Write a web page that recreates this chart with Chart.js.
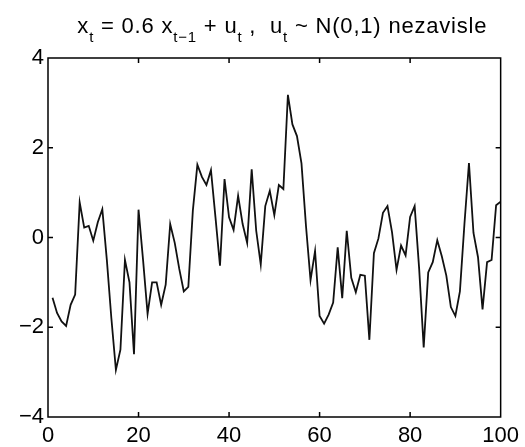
<!DOCTYPE html>
<html>
<head>
<meta charset="utf-8">
<script src="https://cdn.jsdelivr.net/npm/chart.js@4"></script>
<style>
  body { margin: 0; background: #fff; }
  canvas { display: block; }
</style>
</head>
<body>
<canvas id="arChart" width="525" height="447"></canvas>
<script>
// values of the AR(1) series (t = 1..100)
const seriesValues = [
  -1.34, -1.68, -1.87, -1.97, -1.5, -1.27, 0.78, 0.22, 0.26, -0.07,
  0.34, 0.63, -0.5, -1.8, -2.95, -2.5, -0.5, -1.0, -2.6, 0.62,
  -0.5, -1.7, -1.0, -1.0, -1.5, -1.05, 0.3, -0.12, -0.7, -1.2,
  -1.1, 0.6, 1.62, 1.35, 1.17, 1.5, 0.45, -0.63, 1.3, 0.45,
  0.17, 0.93, 0.3, -0.12, 1.52, 0.15, -0.6, 0.7, 1.04, 0.5,
  1.17, 1.08, 3.18, 2.52, 2.26, 1.65, 0.25, -0.95, -0.3, -1.75,
  -1.92, -1.72, -1.45, -0.22, -1.35, 0.15, -0.9, -1.22, -0.83, -0.85,
  -2.28, -0.35, -0.02, 0.55, 0.7, 0.12, -0.72, -0.18, -0.4, 0.46,
  0.7, -0.7, -2.45, -0.78, -0.55, -0.06, -0.42, -0.85, -1.55, -1.75,
  -1.2, 0.3, 1.66, 0.1, -0.44, -1.6, -0.55, -0.5, 0.72, 0.8
];
const xTicks = [0, 20, 40, 60, 80, 100];
const yTicks = [-4, -2, 0, 2, 4];

// title pieces, sub = drawn as subscript
const titleParts = [
  { text: "x", sub: false }, { text: "t", sub: true },
  { text: " = 0.6 x", sub: false }, { text: "t\u22121", sub: true },
  { text: " + u", sub: false }, { text: "t", sub: true },
  { text: " ,  u", sub: false }, { text: "t", sub: true },
  { text: " ~ N(0,1) nezavisle", sub: false }
];

const points = seriesValues.map((v, i) => ({ x: i + 1, y: v }));
const fontFamily = "'Liberation Sans', Arial, sans-serif";

const boxPlugin = {
  id: "boxPlugin",
  afterDatasetsDraw(chart) {
    const ctx = chart.ctx;
    const a = chart.chartArea;
    const xs = chart.scales.x;
    const ys = chart.scales.y;
    ctx.save();
    ctx.strokeStyle = "#000";
    ctx.lineWidth = 1.5;
    ctx.strokeRect(a.left, a.top, a.right - a.left, a.bottom - a.top);
    ctx.beginPath();
    xTicks.slice(1, -1).forEach((v) => {
      const px = xs.getPixelForValue(v);
      ctx.moveTo(px, a.bottom);
      ctx.lineTo(px, a.bottom - 5);
      ctx.moveTo(px, a.top);
      ctx.lineTo(px, a.top + 5);
    });
    yTicks.slice(1, -1).forEach((v) => {
      const py = ys.getPixelForValue(v);
      ctx.moveTo(a.left, py);
      ctx.lineTo(a.left + 5, py);
      ctx.moveTo(a.right, py);
      ctx.lineTo(a.right - 5, py);
    });
    ctx.stroke();
    ctx.restore();
  },
  afterDraw(chart) {
    const ctx = chart.ctx;
    const a = chart.chartArea;
    const mainFont = "22px " + fontFamily;
    const subFont = "15px " + fontFamily;
    ctx.save();
    ctx.fillStyle = "#000";
    ctx.textBaseline = "alphabetic";
    ctx.letterSpacing = "0.8px";
    let total = 0;
    titleParts.forEach((p) => {
      ctx.font = p.sub ? subFont : mainFont;
      total += ctx.measureText(p.text).width;
    });
    let x = (a.left + a.right) / 2 - total / 2 + 8;
    titleParts.forEach((p) => {
      ctx.font = p.sub ? subFont : mainFont;
      ctx.fillText(p.text, x, p.sub ? 42 : 33);
      x += ctx.measureText(p.text).width;
    });
    ctx.restore();
  }
};

new Chart(document.getElementById("arChart"), {
  type: "line",
  data: {
    datasets: [{
      data: points,
      borderColor: "#111",
      borderWidth: 1.8,
      pointRadius: 0,
      tension: 0,
      fill: false
    }]
  },
  options: {
    responsive: false,
    animation: false,
    devicePixelRatio: 1,
    layout: { padding: { top: 58, right: 21, left: 0, bottom: 0 } },
    plugins: { legend: { display: false }, tooltip: { enabled: false } },
    scales: {
      x: {
        type: "linear",
        min: 0,
        max: 100,
        afterBuildTicks: (s) => { s.ticks = xTicks.map((v) => ({ value: v })); },
        afterFit: (s) => { s.height = 30; },
        grid: { display: false, drawTicks: false },
        border: { display: false },
        ticks: {
          color: "#000",
          font: { family: fontFamily, size: 22 },
          padding: 6,
          maxRotation: 0,
          autoSkip: false
        }
      },
      y: {
        min: -4,
        max: 4,
        afterBuildTicks: (s) => { s.ticks = yTicks.map((v) => ({ value: v })); },
        afterFit: (s) => { s.width = 48; },
        grid: { display: false, drawTicks: false },
        border: { display: false },
        ticks: {
          color: "#000",
          font: { family: fontFamily, size: 22 },
          padding: 4,
          callback: (v) => String(v).replace("-", "\u2212")
        }
      }
    }
  },
  plugins: [boxPlugin]
});
</script>
</body>
</html>
